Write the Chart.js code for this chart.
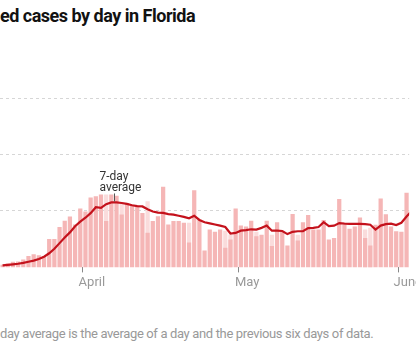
<!DOCTYPE html>
<html>
<head>
<meta charset="utf-8">
<script src="https://cdn.jsdelivr.net/npm/chart.js@4"></script>
<style>
  html, body { margin: 0; padding: 0; background: #fff; }
  #page { position: relative; width: 416px; height: 347px; overflow: hidden; font-family: Roboto, sans-serif; }
  #title { position: absolute; left: 0; top: 7px; font-size: 18px; line-height: 18px; font-weight: 700; color: #121212; letter-spacing: -0.5px; white-space: nowrap; }
  #chart-box { position: absolute; left: 0; top: 90px; width: 416px; height: 210px; }
  #note { position: absolute; left: 0; top: 327px; font-size: 13px; line-height: 13px; color: #999; letter-spacing: -0.35px; white-space: nowrap; }
</style>
</head>
<body>
<div id="page">
  <div id="title">ed cases by day in Florida</div>
  <div id="chart-box"><canvas id="cases-chart"></canvas></div>
  <div id="note">day average is the average of a day and the previous six days of data.</div>
</div>
<script>
// days counted from April 1 (day 0); first visible bar is March 16
const firstDay = -16
const lastDay = 63

const cases = [45, 70, 100, 105, 140, 200, 235, 215, 200, 505, 505, 715, 825, 900, 760, 1045,
  990, 1240, 1260, 1290, 820, 1290, 1270, 935, 1140, 1110, 1080, 965, 615, 820, 905, 1430,
  760, 820, 820, 790, 440, 1365, 850, 300, 670, 630, 670, 350, 495, 1045, 740, 725,
  825, 550, 580, 825, 380, 800, 650, 390, 945, 475, 800, 930, 670, 670, 840, 495,
  520, 1210, 755, 685, 725, 885, 520, 390, 755, 1220, 940, 725, 640, 630, 1320]

// lighter top part on some days (full height of the pale bar)
const paleTops = {4: 1290, 7: 1130, 12: 1170, 20: 790, 27: 650, 28: 580, 33: 630, 36: 580, 41: 580, 54: 670, 55: 700}

const average = [35, 45, 55, 65, 80, 100, 120, 150, 190, 250, 330, 430, 530, 620, 730, 810,
  880, 960, 1065, 1055, 1120, 1150, 1150, 1140, 1125, 1100, 1085, 1080, 1030, 990, 970, 965,
  945, 935, 915, 895, 870, 915, 840, 800, 780, 760, 740, 715, 600, 610, 650, 660,
  675, 670, 700, 740, 650, 650, 645, 590, 630, 640, 640, 695, 700, 715, 800, 730,
  740, 785, 775, 770, 770, 770, 765, 755, 670, 740, 765, 775, 750, 790, 900, 1000]

const monthTicks = [0, 30, 61]
const monthLabels = ['April', 'May', 'June']
const gridValues = [1000, 2000, 3000]

const annotX = 6.1
const annotValue = 1150

const barData = cases.map((v, i) => ({x: firstDay + i + 0.5, y: v}))
const paleData = cases.map((v, i) => {
  const day = firstDay + i
  return {x: day + 0.5, y: paleTops[day] !== undefined ? paleTops[day] : null}
})
const lineData = average.map((v, i) => ({x: firstDay + i + 0.5, y: v}))

const annotation = {
  id: 'annotation',
  afterDatasetsDraw(chart) {
    const ctx = chart.ctx
    const px = chart.scales.x.getPixelForValue(annotX)
    const py = chart.scales.y.getPixelForValue(annotValue)
    ctx.save()
    ctx.strokeStyle = '#555'
    ctx.lineWidth = 1
    ctx.beginPath()
    ctx.moveTo(Math.round(px) + 0.5, py - 9)
    ctx.lineTo(Math.round(px) + 0.5, py - 1)
    ctx.stroke()
    ctx.fillStyle = '#333'
    ctx.font = '12px Roboto, sans-serif'
    ctx.textBaseline = 'alphabetic'
    ctx.fillText('7-day', px - 15, py - 22)
    ctx.fillText('average', px - 15, py - 11)
    ctx.restore()
  }
}

new Chart(document.querySelector('#cases-chart'), {
  type: 'bar',
  data: {
    datasets: [{
      type: 'line',
      data: lineData,
      borderColor: '#c4121c',
      borderWidth: 2.2,
      pointRadius: 0,
      tension: 0,
      order: 0
    }, {
      data: barData,
      backgroundColor: '#f5b6b6',
      grouped: false,
      categoryPercentage: 1,
      barPercentage: 0.82,
      order: 1
    }, {
      data: paleData,
      backgroundColor: '#fadcdc',
      grouped: false,
      categoryPercentage: 1,
      barPercentage: 0.82,
      order: 2
    }]
  },
  options: {
    responsive: true,
    maintainAspectRatio: false,
    animation: false,
    layout: {
      autoPadding: false,
      padding: {top: 8, bottom: 6, left: 0, right: 0}
    },
    scales: {
      x: {
        type: 'linear',
        offset: false,
        min: firstDay,
        max: lastDay,
        afterBuildTicks: (scale) => {
          scale.ticks = monthTicks.map(v => ({value: v}))
        },
        ticks: {
          autoSkip: false,
          maxRotation: 0,
          padding: 3,
          labelOffset: 9,
          color: '#999',
          font: {family: 'Roboto', size: 13},
          callback: (value, index) => monthLabels[index]
        },
        grid: {
          offset: false,
          drawOnChartArea: false,
          tickLength: 5,
          color: '#888'
        },
        border: {display: false}
      },
      y: {
        min: 0,
        max: 3000,
        afterBuildTicks: (scale) => {
          scale.ticks = gridValues.map(v => ({value: v}))
        },
        ticks: {display: false},
        grid: {
          drawTicks: false,
          color: '#d6d6d6'
        },
        border: {display: false, dash: [3, 3]}
      }
    },
    plugins: {
      legend: false,
      tooltip: {enabled: false}
    }
  },
  plugins: [annotation]
})
</script>
</body>
</html>
